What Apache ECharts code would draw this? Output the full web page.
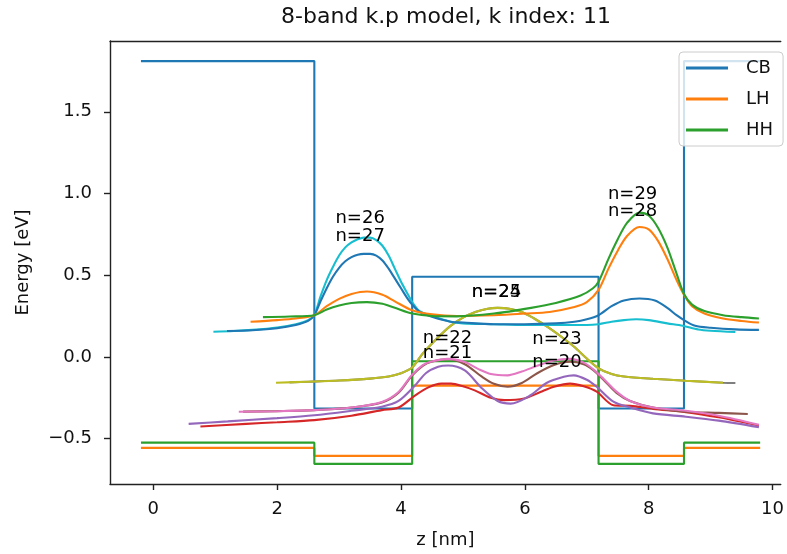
<!DOCTYPE html>
<html>
<head>
<meta charset="utf-8">
<script src="https://cdn.jsdelivr.net/npm/echarts@6/dist/echarts.min.js"></script>
<style>
html,body{margin:0;padding:0;background:#fff;}
#chart{width:787px;height:554px;}
</style>
</head>
<body>
<div id="chart"></div>
<script>
// ---- data ----
const titleText = '8-band k.p model, k index: 11';
const xTicks = [0, 2, 4, 6, 8, 10];
const yTicks = [-0.5, 0, 0.5, 1.0, 1.5];

// band edge potentials (step profiles)
const potX  = [-0.2, 2.6, 2.6, 4.18, 4.18, 7.19, 7.19, 8.57, 8.57, 9.8];
const cbPot = [1.81, 1.81, -0.316, -0.316, 0.49, 0.49, -0.316, -0.316, 1.81, 1.81];
const lhPot = [-0.557, -0.557, -0.606, -0.606, -0.176, -0.176, -0.606, -0.606, -0.557, -0.557];
const hhPot = [-0.525, -0.525, -0.655, -0.655, -0.027, -0.027, -0.655, -0.655, -0.525, -0.525];

// states: energy + probability density
const n20x = [0.76, 1.5, 2.0, 2.6, 3.2, 3.69, 3.96, 4.23, 4.45, 4.65, 4.81, 5.0, 5.19, 5.45, 5.67, 5.99, 6.25, 6.47, 6.73, 6.95, 7.16, 7.43, 7.7, 8.07, 8.6, 9.13, 9.78];
const n20y = [-0.426, -0.41, -0.4, -0.387, -0.36, -0.326, -0.31, -0.235, -0.185, -0.164, -0.164, -0.18, -0.205, -0.25, -0.265, -0.255, -0.215, -0.183, -0.164, -0.18, -0.213, -0.296, -0.3, -0.318, -0.338, -0.37, -0.42];

const n21x = [0.57, 1.2, 2.0, 2.6, 3.2, 3.69, 3.96, 4.23, 4.4, 4.6, 4.76, 5.03, 5.3, 5.56, 5.77, 6.09, 6.35, 6.63, 6.79, 7.0, 7.16, 7.43, 7.7, 8.07, 8.6, 9.13, 9.78];
const n21y = [-0.41, -0.395, -0.375, -0.357, -0.33, -0.305, -0.27, -0.174, -0.1, -0.061, -0.053, -0.083, -0.19, -0.27, -0.286, -0.235, -0.16, -0.122, -0.113, -0.14, -0.183, -0.274, -0.31, -0.346, -0.366, -0.39, -0.43];

const n22x = [1.45, 2.0, 2.6, 3.2, 3.69, 3.96, 4.17, 4.35, 4.49, 4.76, 5.03, 5.3, 5.5, 5.72, 5.95, 6.2, 6.47, 6.73, 6.95, 7.1, 7.27, 7.48, 7.7, 8.07, 8.6, 9.13, 9.6];
const n22y = [-0.335, -0.332, -0.326, -0.31, -0.28, -0.22, -0.118, -0.055, -0.03, -0.015, -0.045, -0.12, -0.165, -0.183, -0.16, -0.1, -0.05, -0.03, -0.045, -0.08, -0.14, -0.22, -0.27, -0.31, -0.336, -0.343, -0.35];

const n23x = [1.38, 2.0, 2.6, 3.2, 3.69, 3.96, 4.17, 4.35, 4.49, 4.76, 5.03, 5.25, 5.45, 5.72, 5.95, 6.2, 6.47, 6.73, 6.95, 7.1, 7.27, 7.48, 7.7, 8.07, 8.6, 9.13, 9.78];
const n23y = [-0.336, -0.333, -0.326, -0.31, -0.276, -0.215, -0.113, -0.05, -0.028, -0.012, -0.032, -0.075, -0.105, -0.113, -0.09, -0.055, -0.022, -0.012, -0.035, -0.075, -0.134, -0.213, -0.27, -0.31, -0.33, -0.36, -0.415];

const n24x = [2.2, 2.5, 3.0, 3.5, 3.8, 4.0, 4.18, 4.35, 4.6, 4.8, 5.0, 5.2, 5.4, 5.56, 5.75, 5.95, 6.15, 6.36, 6.6, 6.8, 7.0, 7.19, 7.4, 7.6, 8.07, 8.6, 9.2, 9.4];
const n24y = [-0.156, -0.152, -0.145, -0.133, -0.12, -0.1, -0.065, 0.02, 0.12, 0.19, 0.24, 0.275, 0.295, 0.30, 0.295, 0.275, 0.235, 0.185, 0.12, 0.06, -0.01, -0.07, -0.105, -0.12, -0.134, -0.146, -0.158, -0.16];

const n25x = [1.98, 2.5, 3.0, 3.5, 3.8, 4.0, 4.18, 4.35, 4.6, 4.8, 5.0, 5.2, 5.4, 5.56, 5.75, 5.95, 6.15, 6.36, 6.6, 6.8, 7.0, 7.19, 7.4, 7.6, 8.07, 8.6, 9.2];
const n25y = [-0.158, -0.152, -0.145, -0.133, -0.12, -0.1, -0.065, 0.02, 0.12, 0.19, 0.24, 0.275, 0.295, 0.30, 0.295, 0.275, 0.235, 0.185, 0.12, 0.06, -0.01, -0.07, -0.105, -0.12, -0.134, -0.146, -0.158];

const n26x = [0.97, 1.3, 1.6, 2.0, 2.3, 2.5, 2.6, 2.7, 2.8, 2.9, 3.0, 3.1, 3.2, 3.3, 3.4, 3.5, 3.6, 3.7, 3.8, 3.9, 4.0, 4.1, 4.18, 4.3, 4.5, 4.8, 5.0, 5.5, 6.0, 6.5, 7.0, 7.19, 7.4, 7.6, 7.8, 8.0, 8.3, 8.55, 8.8, 9.0, 9.4];
const n26y = [0.154, 0.158, 0.165, 0.18, 0.2, 0.225, 0.258, 0.37, 0.47, 0.55, 0.62, 0.67, 0.70, 0.72, 0.73, 0.73, 0.715, 0.68, 0.62, 0.54, 0.46, 0.39, 0.335, 0.28, 0.25, 0.215, 0.205, 0.2, 0.195, 0.195, 0.195, 0.2, 0.215, 0.225, 0.23, 0.225, 0.205, 0.19, 0.168, 0.16, 0.152];

const n27x = [1.19, 1.6, 2.0, 2.3, 2.5, 2.6, 2.7, 2.8, 2.9, 3.0, 3.1, 3.2, 3.3, 3.4, 3.5, 3.6, 3.7, 3.8, 3.9, 4.0, 4.1, 4.18, 4.3, 4.5, 4.8, 5.0, 5.5, 6.0, 6.5, 6.8, 7.0, 7.19, 7.4, 7.6, 7.85, 8.1, 8.3, 8.45, 8.57, 8.75, 9.0, 9.4, 9.78];
const n27y = [0.158, 0.163, 0.175, 0.195, 0.22, 0.255, 0.34, 0.42, 0.49, 0.545, 0.585, 0.61, 0.625, 0.63, 0.63, 0.62, 0.59, 0.54, 0.48, 0.42, 0.36, 0.32, 0.275, 0.245, 0.215, 0.21, 0.2, 0.2, 0.205, 0.215, 0.23, 0.255, 0.31, 0.345, 0.357, 0.345, 0.30, 0.255, 0.225, 0.19, 0.178, 0.168, 0.165];

const n28x = [1.57, 2.0, 2.3, 2.6, 2.8, 3.0, 3.2, 3.45, 3.7, 3.9, 4.18, 4.5, 4.9, 5.5, 6.0, 6.4, 6.8, 7.0, 7.19, 7.35, 7.5, 7.65, 7.85, 8.0, 8.15, 8.3, 8.45, 8.57, 8.7, 8.9, 9.2, 9.5, 9.78];
const n28y = [0.215, 0.225, 0.235, 0.255, 0.31, 0.355, 0.385, 0.40, 0.38, 0.34, 0.285, 0.26, 0.25, 0.255, 0.265, 0.275, 0.305, 0.335, 0.41, 0.54, 0.65, 0.74, 0.795, 0.78, 0.71, 0.60, 0.47, 0.38, 0.31, 0.265, 0.235, 0.22, 0.21];

const n29x = [1.77, 2.2, 2.6, 2.8, 3.0, 3.2, 3.45, 3.7, 3.9, 4.18, 4.5, 4.9, 5.5, 6.1, 6.5, 6.9, 7.1, 7.19, 7.35, 7.5, 7.65, 7.85, 8.0, 8.15, 8.3, 8.45, 8.57, 8.7, 8.9, 9.2, 9.5, 9.78];
const n29y = [0.243, 0.247, 0.255, 0.29, 0.315, 0.33, 0.335, 0.325, 0.30, 0.265, 0.25, 0.248, 0.265, 0.30, 0.33, 0.375, 0.42, 0.46, 0.60, 0.72, 0.82, 0.883, 0.865, 0.79, 0.67, 0.51, 0.385, 0.32, 0.28, 0.255, 0.243, 0.235];

// state labels
const labelNames = ['n=26', 'n=27', 'n=29', 'n=28', 'n=24', 'n=25', 'n=22', 'n=21', 'n=23', 'n=20'];
const labelX = [3.34, 3.34, 7.74, 7.74, 5.54, 5.54, 4.75, 4.75, 6.52, 6.52];
const labelY = [0.845, 0.735, 0.997, 0.89, 0.395, 0.395, 0.114, 0.024, 0.11, -0.036];

// ---- chart ----
const C = ['#1f77b4', '#ff7f0e', '#2ca02c', '#d62728', '#9467bd', '#8c564b', '#e377c2', '#7f7f7f', '#bcbd22', '#17becf'];
const zip = (xs, ys) => xs.map((x, i) => [x, ys[i]]);
const FONT = 'DejaVu Sans';
const X_MIN = -0.7, X_MAX = 10.132;

function pot(name, ys, color) {
  return { name, type: 'line', data: zip(potX, ys), symbol: 'none', showSymbol: false,
    lineStyle: { color, width: 2.1 }, itemStyle: { color }, z: 2 };
}
function state(name, xs, ys, color) {
  return { name, type: 'line', data: zip(xs, ys), symbol: 'none', showSymbol: false, smooth: 0.3,
    lineStyle: { color, width: 2.1 }, itemStyle: { color }, z: 3 };
}

const states = [
  ['n20', n20x, n20y, C[3]], ['n21', n21x, n21y, C[4]], ['n22', n22x, n22y, C[5]],
  ['n23', n23x, n23y, C[6]], ['n24', n24x, n24y, C[7]], ['n25', n25x, n25y, C[8]],
  ['n26', n26x, n26y, C[9]], ['n27', n27x, n27y, C[0]], ['n28', n28x, n28y, C[1]],
  ['n29', n29x, n29y, C[2]]
];

const series = [pot('CB', cbPot, C[0]), pot('LH', lhPot, C[1]), pot('HH', hhPot, C[2])]
  .concat(states.map(s => state(s[0], s[1], s[2], s[3])));

series.push({
  type: 'scatter', symbolSize: 0, z: 5, silent: true,
  itemStyle: { opacity: 1 },
  data: labelNames.map((n, i) => ({ name: n, value: [labelX[i], labelY[i]] })),
  label: { show: true, position: 'inside', formatter: p => p.name, opacity: 1,
    fontFamily: FONT, fontSize: 18, color: '#000', textBorderWidth: 0 }
});

const fmt = v => (v < 0 ? '\u2212' : '') + Math.abs(v).toFixed(1);
const axisLineStyle = { color: '#222', width: 1.4 };

const chart = echarts.init(document.getElementById('chart'), null, { renderer: 'canvas' });
chart.setOption({
  animation: false,
  backgroundColor: '#fff',
  title: { text: titleText, left: 441, top: 1, textAlign: 'center',
    textStyle: { fontFamily: FONT, fontSize: 22, fontWeight: 'normal', color: '#111' } },
  grid: { left: 110, top: 41, right: 0, bottom: 66, show: false, containLabel: false },
  legend: {
    data: ['CB', 'LH', 'HH'], orient: 'vertical', left: 679, top: 52,
    icon: 'rect', itemWidth: 42, itemHeight: 3, itemGap: 13,
    padding: [7, 10, 7, 7],
    backgroundColor: 'rgba(255,255,255,0.8)', borderColor: '#ccc', borderWidth: 1, borderRadius: 4,
    textStyle: { fontFamily: FONT, fontSize: 18, color: '#111', lineHeight: 18, padding: [0, 0, 0, 13] }
  },
  xAxis: [{
    type: 'value', min: X_MIN, max: X_MAX, position: 'bottom',
    name: 'z [nm]', nameLocation: 'middle', nameGap: 47,
    nameTextStyle: { fontFamily: FONT, fontSize: 18, color: '#111', padding: [0, 0, 0, 0] },
    axisLine: { show: true, onZero: false, lineStyle: axisLineStyle },
    axisTick: { show: true, inside: false, length: 6, customValues: xTicks, lineStyle: axisLineStyle },
    axisLabel: { customValues: xTicks, margin: 16, fontFamily: FONT, fontSize: 18, color: '#111', formatter: v => String(v) },
    splitLine: { show: false }
  }, {
    type: 'value', min: X_MIN, max: X_MAX, position: 'top',
    axisLine: { show: true, onZero: false, lineStyle: axisLineStyle },
    axisTick: { show: false }, axisLabel: { show: false }, splitLine: { show: false }
  }],
  yAxis: {
    type: 'value', min: -0.778, max: 1.933,
    name: 'Energy [eV]', nameLocation: 'middle', nameGap: 78, nameRotate: 90,
    nameTextStyle: { fontFamily: FONT, fontSize: 18, color: '#111' },
    axisLine: { show: true, onZero: false, lineStyle: axisLineStyle },
    axisTick: { show: true, inside: false, length: 6, customValues: yTicks, lineStyle: axisLineStyle },
    axisLabel: { customValues: yTicks, margin: 18, fontFamily: FONT, fontSize: 18, color: '#111', formatter: fmt },
    splitLine: { show: false }
  },
  series
});
</script>
</body>
</html>
